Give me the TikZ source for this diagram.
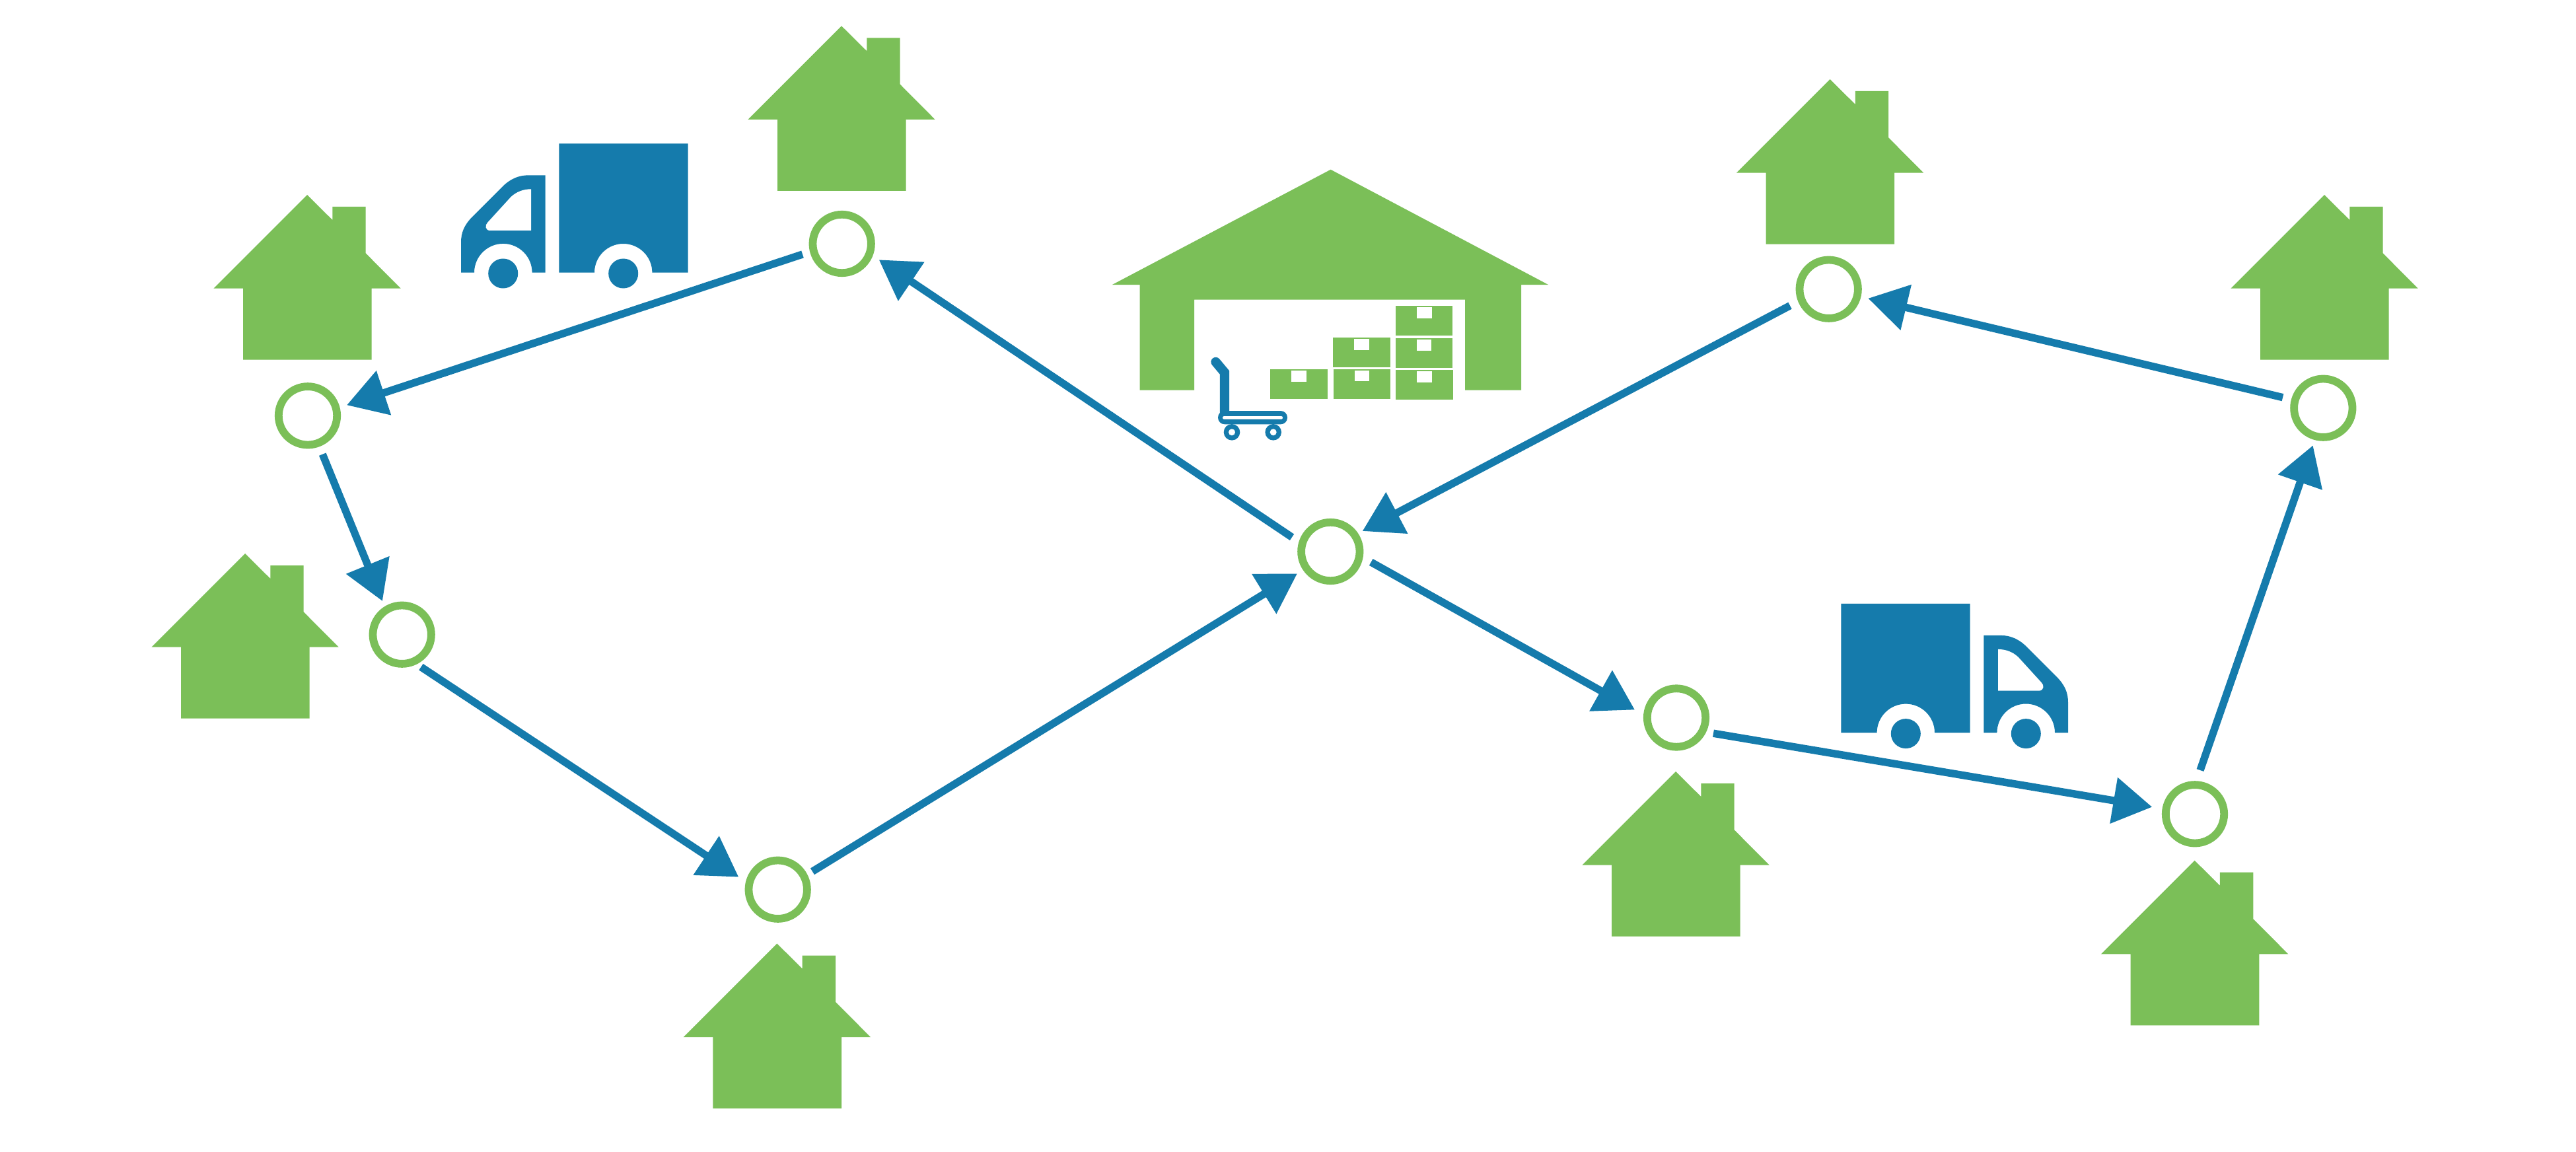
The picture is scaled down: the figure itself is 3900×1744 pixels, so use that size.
\documentclass[tikz,border=0pt]{standalone}
\usetikzlibrary{arrows.meta,calc}
\definecolor{flowblue}{RGB}{21,123,172}
\definecolor{leaf}{RGB}{123,191,88}
\tikzset{
  stop/.style={circle,draw=leaf,line width=2.95pt,minimum size=22.1pt,inner sep=0pt,outer sep=0pt},
  flow/.style={draw=flowblue,line width=2.85pt,line cap=butt,-{Triangle[length=14.75pt,width=17pt,sep=0pt]}},
  pics/house/.style={code={
    \fill[leaf] (0,0) -- (38.3,38) -- (38.3,18) -- (88.7,18) -- (88.7,88.4) -- (141.7,141.7)
      -- (97.7,141.7) -- (97.7,249.7) -- (-97,249.7) -- (-97,141.7) -- (-141.7,141.7) -- cycle;
  }},
  pics/truck/.style={code={
    \fill[flowblue] (846.3,217.3) -- (1041.7,217.3) -- (1041.7,412.7) -- (987.4,412.7)
      arc[start angle=0,end angle=-180,radius=43.7] -- (846.3,412.7) -- cycle;
    \fill[flowblue] (943.7,414) circle[radius=22.5];
    \fill[flowblue] (825.7,265.3) -- (800,265.3) .. controls (785,265.3) and (772,271) .. (760,283.3)
      -- (715,328.3) .. controls (703,340.5) and (698,352) .. (698,366.7) -- (698,412.7) -- (718,412.7)
      arc[start angle=180,end angle=360,radius=43.8] -- (825.7,412.7) -- cycle;
    \fill[white] (804,286.3) -- (804,349) -- (741.7,349) .. controls (735,349) and (733.5,341) .. (738.3,336.7)
      -- (773.3,298.3) .. controls (782,290) and (793,286.3) .. (804,286.3) -- cycle;
    \fill[flowblue] (761.7,414) circle[radius=22.5];
  }},
  pics/carton/.style={code={
    \fill[leaf] (0,0) rectangle (86.5,45);
    \fill[white] (32,1.8) rectangle (54.7,18.6);
  }},
}
\begin{document}
\begin{tikzpicture}[x=0.25pt,y=-0.25pt]
\useasboundingbox (0,0) rectangle (3900,1744);
\fill[white] (0,0) rectangle (3900,1744);

% warehouse
\fill[leaf] (2014.6,256.7) -- (2344,431) -- (2303,431) -- (2303,590.7) -- (2218,590.7) -- (2218,453.7)
  -- (1808,453.7) -- (1808,590.7) -- (1725.6,590.7) -- (1725.6,431) -- (1684,431) -- cycle;
\pic at (1923.4,559) {carton};
\pic at (2018.7,558.7) {carton};
\pic at (2018.2,511) {carton};
\pic at (2113.3,560) {carton};
\pic at (2112.7,512) {carton};
\pic at (2112.9,463.3) {carton};

% trolley
\draw[flowblue,line width=3.6pt,line cap=round,line join=miter] (1840.6,548) -- (1854,564) -- (1854,625);
\fill[flowblue,rounded corners=2.5pt] (1844,622) rectangle (1949,642.3);
\fill[white,rounded corners=0.55pt] (1851,630) rectangle (1942,634.7);
\fill[flowblue] (1865,654.3) circle[radius=12.3] (1927.7,654.3) circle[radius=12.3];
\fill[white] (1865,654.3) circle[radius=5] (1927.7,654.3) circle[radius=5];

% trucks
\pic at (0,0) {truck};
\pic[xscale=-1] at (3829,696.6) {truck};

% houses
\pic at (1274,39.3) {house};
\pic at (465,295) {house};
\pic at (371,838) {house};
\pic at (1176.4,1428.5) {house};
\pic at (2537,1168) {house};
\pic at (3322.6,1302.7) {house};
\pic at (3519,295) {house};
\pic at (2770.5,120) {house};

% stops
\node[stop] (hub) at (2014.3,835) {};
\node[stop] (n1) at (466,629.3) {};
\node[stop] (n2) at (608.7,960.7) {};
\node[stop] (n3) at (1177.7,1346.7) {};
\node[stop] (n4) at (2538,1086.5) {};
\node[stop] (n5) at (3323,1232.3) {};
\node[stop] (n6) at (3517.3,617.7) {};
\node[stop] (n7) at (2768.7,437.7) {};
\node[stop] (n8) at (1274.7,369) {};

% route
\draw[flow] ($(hub)+(-58.3,-21.7)$) -- ($(n8)+(56,24.3)$);
\draw[flow] ($(n8)+(-59.7,16)$) -- ($(n1)+(59,-16)$);
\draw[flow] ($(n1)+(22.3,58.4)$) -- ($(n2)+(-29.7,-50.7)$);
\draw[flow] ($(n2)+(28.7,49)$) -- ($(n3)+(-59.4,-19)$);
\draw[flow] ($(n3)+(52.3,-27.4)$) -- ($(hub)+(-50.3,33.3)$);
\draw[flow] ($(n6)+(-61.3,-16)$) -- ($(n7)+(59.6,14)$);
\draw[flow] ($(n7)+(-58.7,25)$) -- ($(hub)+(48.4,-31)$);
\draw[flow] ($(hub)+(61.4,16)$) -- ($(n4)+(-63,-12)$);
\draw[flow] ($(n4)+(56,23.7)$) -- ($(n5)+(-64.7,-10.6)$);
\draw[flow] ($(n5)+(8,-66.3)$) -- ($(n6)+(-15.6,56.6)$);
\end{tikzpicture}
\end{document}
